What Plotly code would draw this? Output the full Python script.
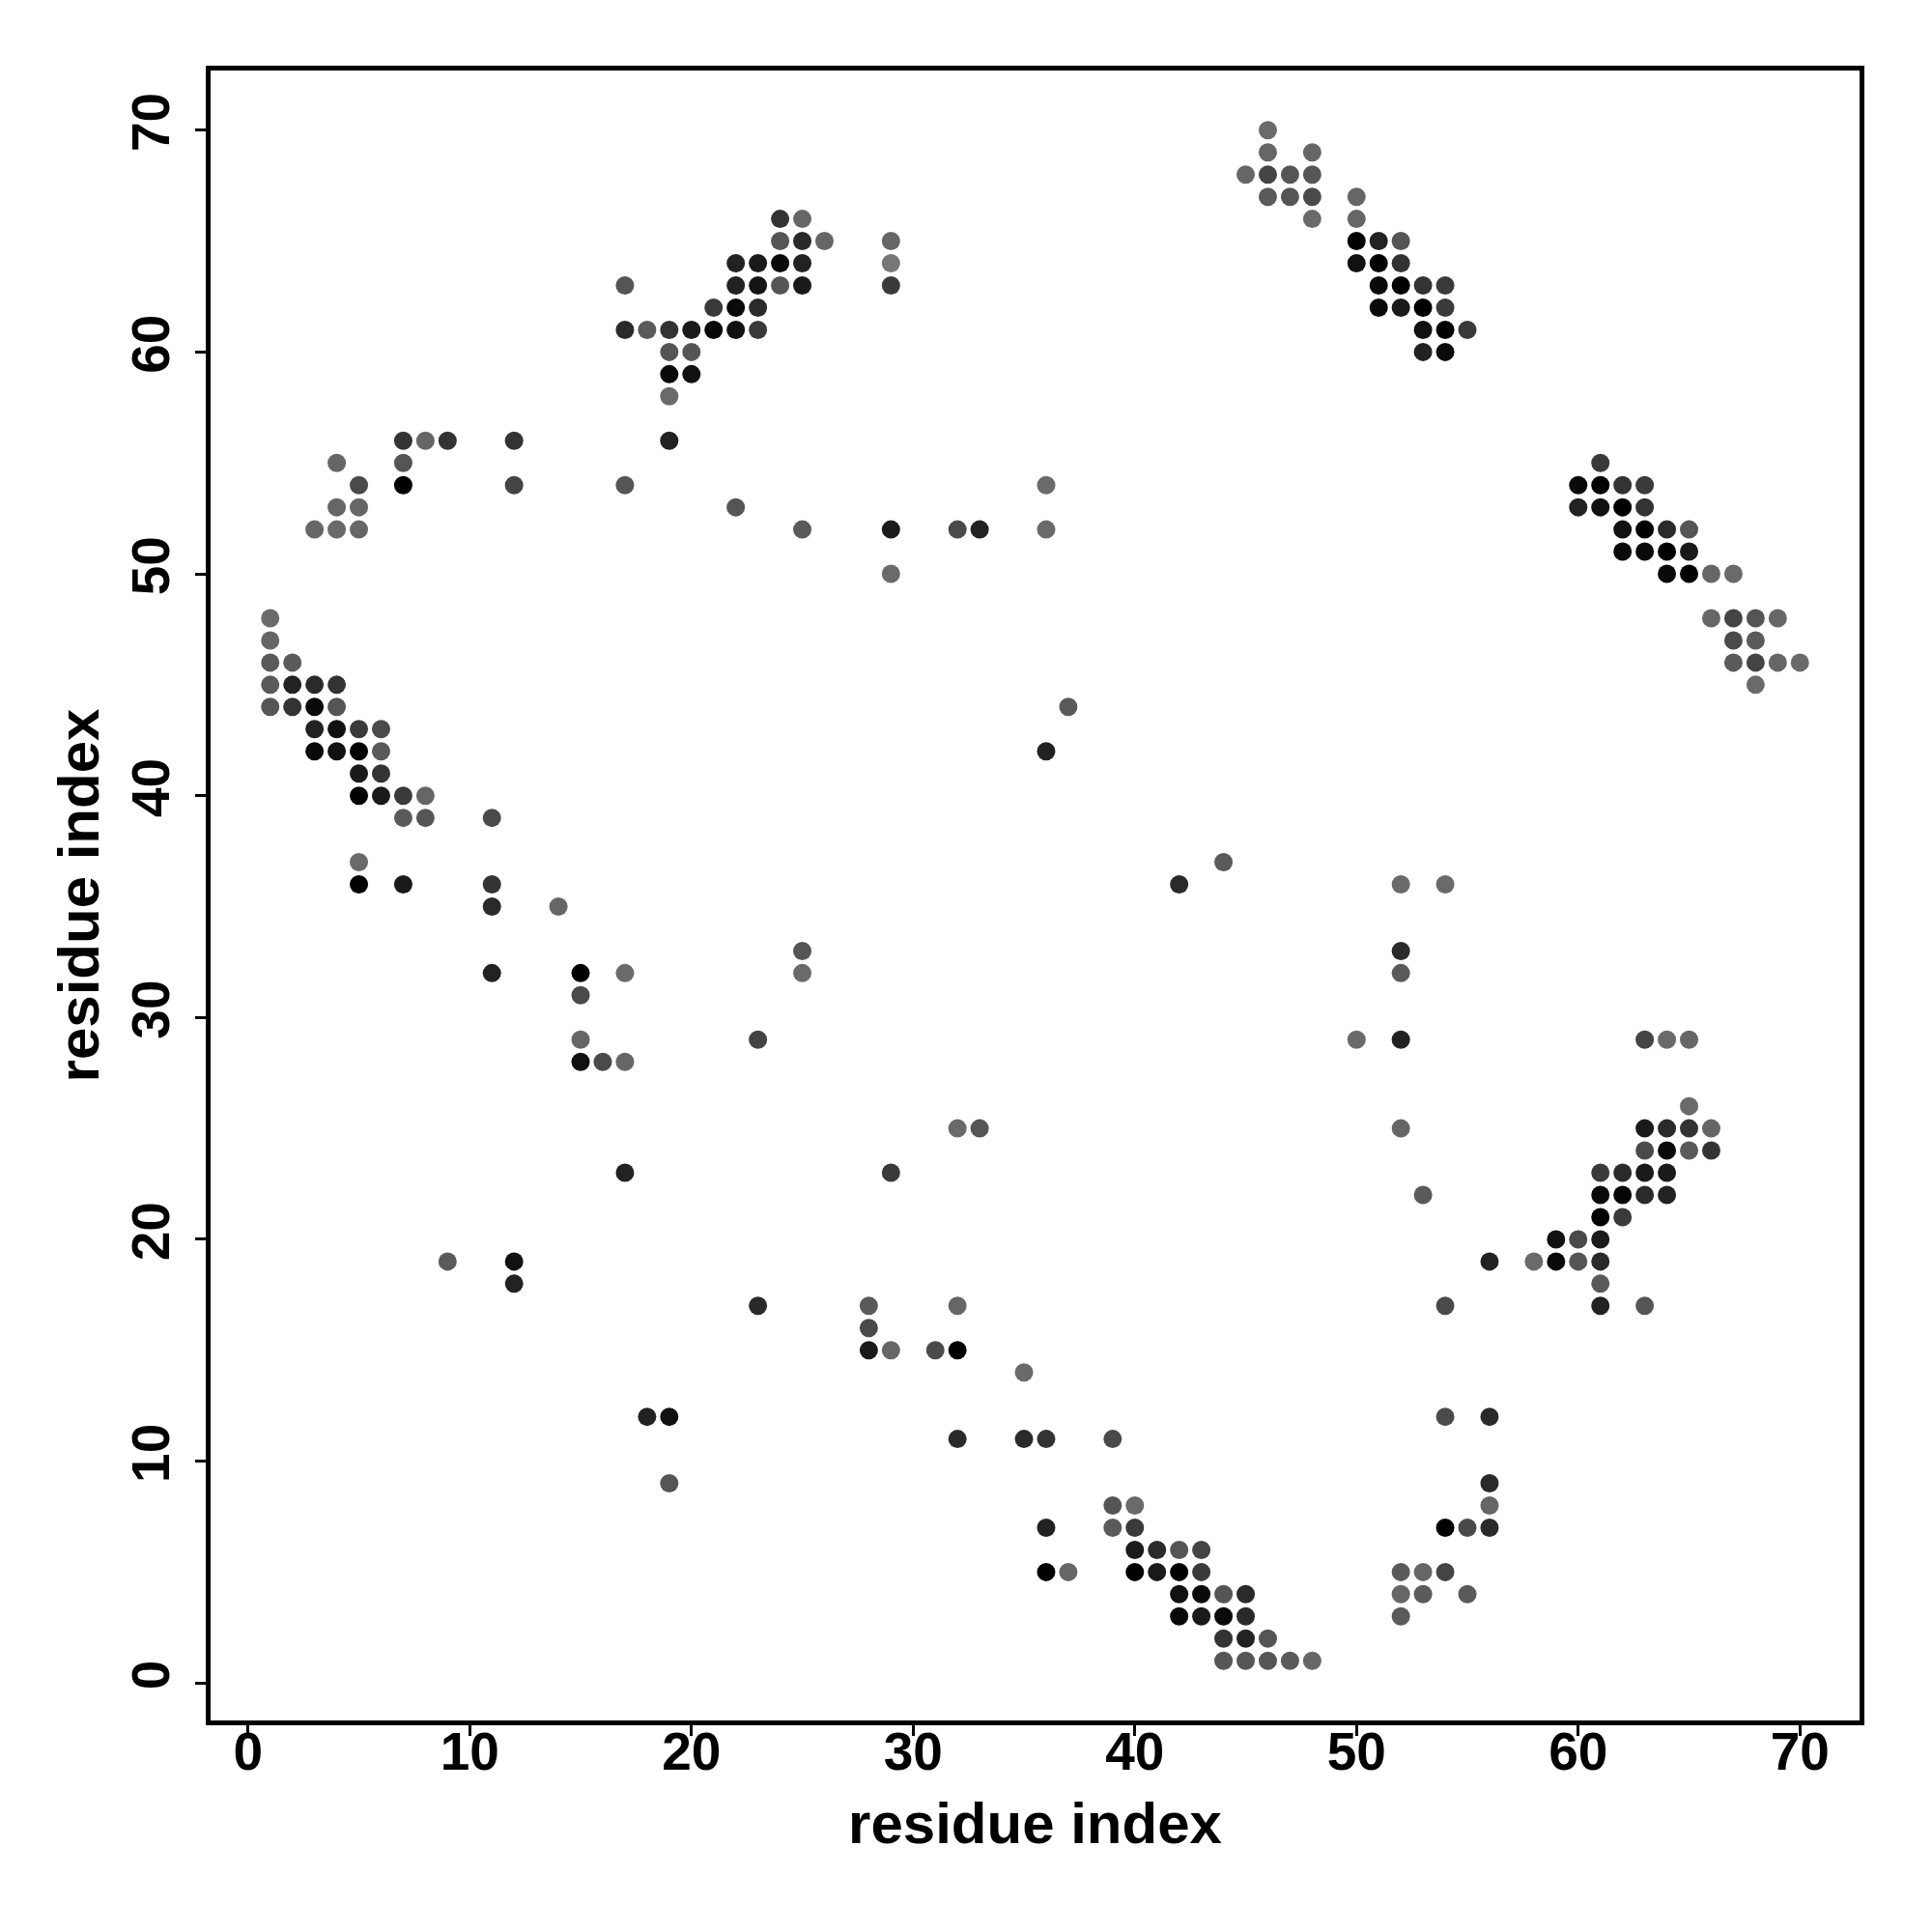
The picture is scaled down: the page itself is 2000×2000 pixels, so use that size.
import plotly.graph_objects as go

# residue i, residue j, grey level (0 = black, 255 = white)
x = [46, 46, 48, 45, 46, 47, 48, 46, 47, 48, 50, 48, 50, 50, 51, 52, 50, 51, 52,
     51, 52, 53, 54, 51, 52, 53, 54, 53, 54, 55, 53, 54,
     24, 25, 24, 25, 26, 29, 22, 23, 24, 25, 29, 17, 22, 23, 24, 25, 29,
     21, 22, 23, 17, 18, 19, 20, 21, 22, 23, 19, 20, 19, 20, 19,
     7, 8, 9, 12, 19, 4, 7, 61,
     5, 7, 12, 17, 36, 60, 61, 62, 63,
     4, 5, 22, 60, 61, 62, 63,
     3, 4, 5, 25, 29, 32, 33, 36, 62, 63, 64, 65,
     62, 63, 64, 65,
     29, 64, 65, 66, 67,
     1, 66, 67, 68, 69,
     1, 67, 68,
     1, 2, 67, 68, 69, 70,
     1, 2, 3, 4, 68,
     1, 2, 3, 4, 37,
     3, 4, 5, 6,
     3, 4, 5, 6, 36,
     5, 6,
     5, 6, 7, 8,
     7, 8, 11,
     5, 44,
     5, 7, 11, 42, 52, 54,
     11, 14,
     25, 52,
     11, 15, 17, 25, 52,
     15,
     15, 23, 50, 52, 63, 64, 65,
     15, 16, 17,
     65,
     32, 33, 52, 63, 64, 65, 66,
     63, 64, 65, 66,
     17, 29, 61, 62, 63, 64,
     53, 61, 62, 63, 64,
     61, 62,
     59, 60, 61,
     9, 12, 56, 58, 59, 60, 61,
     12, 61,
     23, 28, 32, 54, 61, 63,
     28,
     28, 29, 31, 32,
     35,
     18, 19, 54, 56,
     32, 35, 36, 39,
     19, 56,
     39, 40, 56,
     36, 39, 40, 54, 55, 56,
     40, 41, 42, 43,
     36, 37, 40, 41, 42, 43, 52, 53, 54,
     42, 43, 44, 45, 52, 53, 55,
     42, 43, 44, 45, 52,
     44, 45, 46,
     44, 45, 46, 47, 48]

y = [70, 69, 69, 68, 68, 68, 68, 67, 67, 67, 67, 66, 66, 65, 65, 65, 64, 64, 64,
     63, 63, 63, 63, 62, 62, 62, 62, 61, 61, 61, 60, 60,
     66, 66, 65, 65, 65, 65, 64, 64, 64, 64, 64, 63, 63, 63, 63, 63, 63,
     62, 62, 62, 61, 61, 61, 61, 61, 61, 61, 60, 60, 59, 59, 58,
     56, 56, 56, 56, 56, 55, 55, 55,
     54, 54, 54, 54, 54, 54, 54, 54, 54,
     53, 53, 53, 53, 53, 53, 53,
     52, 52, 52, 52, 52, 52, 52, 52, 52, 52, 52, 52,
     51, 51, 51, 51,
     50, 50, 50, 50, 50,
     48, 48, 48, 48, 48,
     47, 47, 47,
     46, 46, 46, 46, 46, 46,
     45, 45, 45, 45, 45,
     44, 44, 44, 44, 44,
     43, 43, 43, 43,
     42, 42, 42, 42, 42,
     41, 41,
     40, 40, 40, 40,
     39, 39, 39,
     37, 37,
     36, 36, 36, 36, 36, 36,
     35, 35,
     33, 33,
     32, 32, 32, 32, 32,
     31,
     29, 29, 29, 29, 29, 29, 29,
     28, 28, 28,
     26,
     25, 25, 25, 25, 25, 25, 25,
     24, 24, 24, 24,
     23, 23, 23, 23, 23, 23,
     22, 22, 22, 22, 22,
     21, 21,
     20, 20, 20,
     19, 19, 19, 19, 19, 19, 19,
     18, 18,
     17, 17, 17, 17, 17, 17,
     16,
     15, 15, 15, 15,
     14,
     12, 12, 12, 12,
     11, 11, 11, 11,
     9, 9,
     8, 8, 8,
     7, 7, 7, 7, 7, 7,
     6, 6, 6, 6,
     5, 5, 5, 5, 5, 5, 5, 5, 5,
     4, 4, 4, 4, 4, 4, 4,
     3, 3, 3, 3, 3,
     2, 2, 2,
     1, 1, 1, 1, 1]

grey = [106, 102, 102, 102, 68, 85, 85, 90, 85, 74, 102, 106, 102, 0, 34, 85, 17, 0, 51,
        10, 0, 51, 58, 10, 26, 0, 58, 17, 0, 58, 34, 10,
        51, 102, 85, 42, 102, 102, 34, 25, 10, 34, 119, 85, 34, 20, 85, 26, 58,
        58, 10, 42, 42, 90, 51, 26, 8, 17, 58, 85, 85, 10, 17, 106,
        51, 102, 51, 51, 34, 102, 85, 58,
        74, 0, 68, 85, 106, 10, 0, 51, 58,
        102, 102, 85, 34, 17, 0, 51,
        102, 106, 102, 90, 26, 74, 34, 106, 17, 0, 42, 85,
        10, 10, 0, 26,
        106, 10, 0, 102, 106,
        106, 102, 68, 85, 102,
        102, 74, 90,
        90, 90, 90, 68, 102, 106,
        90, 34, 42, 51, 106,
        85, 51, 10, 85, 90,
        34, 17, 58, 74,
        10, 17, 0, 90, 34,
        26, 51,
        0, 26, 58, 102,
        90, 85, 74,
        106, 90,
        0, 26, 51, 42, 106, 106,
        42, 102,
        85, 42,
        34, 0, 106, 106, 90,
        74,
        102, 68, 106, 34, 68, 106, 102,
        17, 74, 102,
        106,
        106, 85, 102, 26, 42, 51, 102,
        74, 10, 90, 51,
        34, 58, 58, 42, 26, 26,
        90, 10, 5, 42, 34,
        0, 58,
        17, 74, 26,
        90, 17, 34, 106, 10, 85, 42,
        34, 90,
        42, 90, 102, 74, 34, 85,
        74,
        26, 102, 74, 0,
        106,
        34, 17, 74, 42,
        42, 42, 51, 74,
        85, 42,
        85, 106, 102,
        34, 90, 58, 0, 74, 42,
        26, 42, 85, 68,
        0, 102, 0, 26, 0, 58, 90, 102, 68,
        17, 10, 85, 42, 102, 90, 90,
        10, 26, 10, 42, 90,
        51, 34, 85,
        85, 85, 85, 90, 102]

tick_vals = [0, 10, 20, 30, 40, 50, 60, 70]
tick_text = ["0", "10", "20", "30", "40", "50", "60", "70"]
axis_title = "residue index"

colors = ["rgb({0},{0},{0})".format(g) for g in grey]

fig = go.Figure(go.Scatter(
    x=x, y=y, mode="markers",
    marker=dict(size=19, color=colors, line=dict(width=0)),
    hoverinfo="x+y",
))

tick_font = dict(family="Liberation Sans, Arial, sans-serif", size=55,
                 color="black", weight="bold")
title_font = dict(family="Liberation Sans, Arial, sans-serif", size=60,
                  color="black", weight="bold")

common = dict(
    range=[-1.69, 72.69],
    tickmode="array", tickvals=tick_vals, ticktext=tick_text,
    ticks="outside", ticklen=11, tickwidth=3, tickcolor="black",
    showline=True, linewidth=5, linecolor="black", mirror=True,
    showgrid=False, zeroline=False,
    tickfont=tick_font,
)

fig.update_layout(
    width=2000, height=2000,
    margin=dict(l=210, r=83, t=65, b=227, autoexpand=False),
    paper_bgcolor="white", plot_bgcolor="white",
    showlegend=False,
    xaxis=dict(**common, title=dict(text=axis_title, font=title_font, standoff=24),
               ticklabelstandoff=-31),
    yaxis=dict(**common, title=dict(text=axis_title, font=title_font, standoff=5),
               tickangle=-90, ticklabelstandoff=5),
)

fig.write_html("out.html")
